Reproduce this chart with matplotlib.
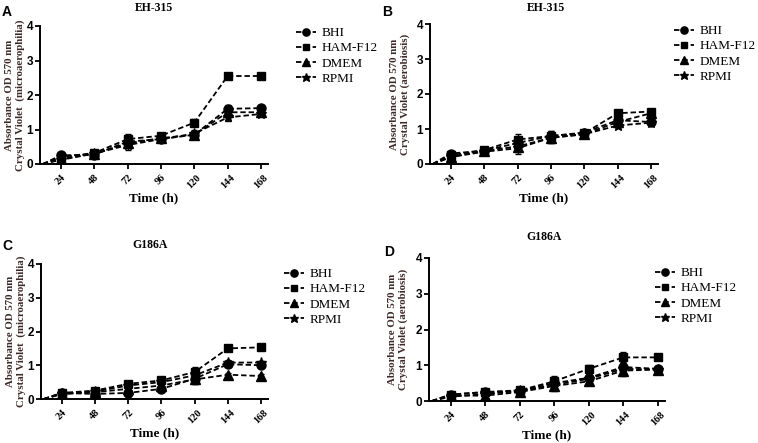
import numpy as np
import matplotlib
matplotlib.use("Agg")
from matplotlib import pyplot as plt

# time points (h); the curves start from an unlabelled zero point
times = [24, 48, 72, 96, 120, 144, 168]
start_t = 11
start_v = 0.0
media = ["BHI", "HAM-F12", "DMEM", "RPMI"]

# A: EH-315 microaerophilia
a_bhi = [0.25, 0.27, 0.65, 0.72, 0.85, 1.60, 1.62]
a_ham = [0.20, 0.32, 0.72, 0.82, 1.20, 2.55, 2.55]
a_dmem = [0.15, 0.30, 0.60, 0.75, 0.85, 1.50, 1.50]
a_rpmi = [0.12, 0.30, 0.55, 0.72, 0.88, 1.35, 1.45]
a_err = [0.05, 0.05, 0.15, 0.06, 0.10, 0.10, 0.04]

# B: EH-315 aerobiosis
b_bhi = [0.30, 0.38, 0.60, 0.80, 0.90, 1.25, 1.20]
b_ham = [0.25, 0.40, 0.70, 0.80, 0.88, 1.45, 1.50]
b_dmem = [0.20, 0.38, 0.50, 0.75, 0.85, 1.20, 1.45]
b_rpmi = [0.20, 0.35, 0.45, 0.75, 0.85, 1.10, 1.18]
b_err = [0.06, 0.05, 0.15, 0.15, 0.08, 0.08, 0.05]

# C: G186A microaerophilia
c_bhi = [0.18, 0.15, 0.18, 0.30, 0.60, 1.03, 1.00]
c_ham = [0.18, 0.25, 0.45, 0.55, 0.80, 1.50, 1.53]
c_dmem = [0.15, 0.20, 0.30, 0.40, 0.58, 0.72, 0.68]
c_rpmi = [0.15, 0.22, 0.40, 0.50, 0.70, 1.08, 1.08]
c_err = [0.04, 0.04, 0.08, 0.06, 0.15, 0.06, 0.05]

# D: G186A aerobiosis
d_bhi = [0.18, 0.25, 0.28, 0.50, 0.65, 0.95, 0.90]
d_ham = [0.18, 0.25, 0.30, 0.55, 0.90, 1.22, 1.22]
d_dmem = [0.15, 0.15, 0.25, 0.42, 0.55, 0.85, 0.88]
d_rpmi = [0.12, 0.20, 0.28, 0.45, 0.62, 0.90, 0.88]
d_err = [0.05, 0.05, 0.06, 0.15, 0.10, 0.15, 0.05]

markers = ["o", "s", "^", "*"]
msizes = [6.5, 5.5, 6.5, 8]
serif = "Liberation Serif"
sans = "Liberation Sans"
lab_col = "#3d2a28"

fig = plt.figure(figsize=(7.58, 4.43), dpi=100)

W, H = 758.0, 443.0

def px_axes(l, r, t, b):
    return fig.add_axes([l / W, 1 - b / H, (r - l) / W, (b - t) / H])

panels = [
    ("A", "EH-315", "Crystal Violet  (microaerophilia)",
     [a_bhi, a_ham, a_dmem, a_rpmi], a_err,
     (40, 268, 26, 164), (2, 5), (154, 8), (296, 27), -0.11),
    ("B", "EH-315", "Crystal Violet (aerobiosis)",
     [b_bhi, b_ham, b_dmem, b_rpmi], b_err,
     (430, 658, 24, 164), (382, 5), (546, 8), (674, 25), -0.13),
    ("C", "G186A", "Crystal Violet  (microaerophilia)",
     [c_bhi, c_ham, c_dmem, c_rpmi], c_err,
     (41, 268, 264, 399), (2, 239), (150, 245), (284, 268), -0.11),
    ("D", "G186A", "Crystal Violet (aerobiosis)",
     [d_bhi, d_ham, d_dmem, d_rpmi], d_err,
     (429, 665, 258, 401), (384, 245), (544, 237), (655, 267), -0.13),
]

for letter, title, ylab2, series, err, box, lpos, tpos, legpos, ylx in panels:
    ax = px_axes(*box)
    handles = []
    for vals, mk, ms, name in zip(series, markers, msizes, media):
        ax.errorbar(times, vals, yerr=err, fmt="none", ecolor="black",
                    elinewidth=1, capsize=2, capthick=1)
        h, = ax.plot([start_t] + times, [start_v] + vals, color="black",
                     ls=(0, (3, 1.6)), lw=1.3, marker=mk, ms=ms,
                     markevery=list(range(1, len(times) + 1)), label=name)
        handles.append(h)

    ax.set_xlim(9, 173)
    ax.set_ylim(0, 4)
    ax.set_yticks([0, 1, 2, 3, 4])
    ax.set_xticks(times)
    ax.set_xticklabels([str(t) for t in times], rotation=45,
                       fontfamily=serif, fontweight="bold", fontsize=7.5)
    ax.set_yticklabels(["0", "1", "2", "3", "4"], fontfamily=sans,
                       fontweight="bold", fontsize=8.5)
    ax.tick_params(axis="both", direction="out", length=3.5, width=1.3, pad=1.5)
    ax.tick_params(axis="x", pad=3)
    for s in ["top", "right"]:
        ax.spines[s].set_visible(False)
    for s in ["left", "bottom"]:
        ax.spines[s].set_linewidth(1.4)

    ax.set_xlabel("Time (h)", fontfamily=serif, fontweight="bold",
                  fontsize=9.5, labelpad=1)
    ax.text(ylx, 0.5, "Absorbance OD 570 nm\n" + ylab2, transform=ax.transAxes,
            rotation=90, ha="center", va="center", fontfamily=serif,
            fontweight="bold", fontsize=7.8, color=lab_col, linespacing=1.2)

    fig.text(tpos[0] / W, 1 - tpos[1] / H, title, ha="center", va="center",
             fontfamily=serif, fontweight="bold", fontsize=8.5)
    fig.text(lpos[0] / W, 1 - lpos[1] / H, letter, ha="left", va="top",
             fontfamily=sans, fontweight="bold", fontsize=10)

    fig.legend(handles=handles, loc="upper left",
               bbox_to_anchor=(legpos[0] / W, 1 - legpos[1] / H),
               frameon=False, handlelength=1.5, handletextpad=0.45,
               labelspacing=0.22, borderaxespad=0, borderpad=0,
               markerscale=0.8, prop={"family": serif, "size": 9.5})

fig.savefig("out.png", dpi=100)
